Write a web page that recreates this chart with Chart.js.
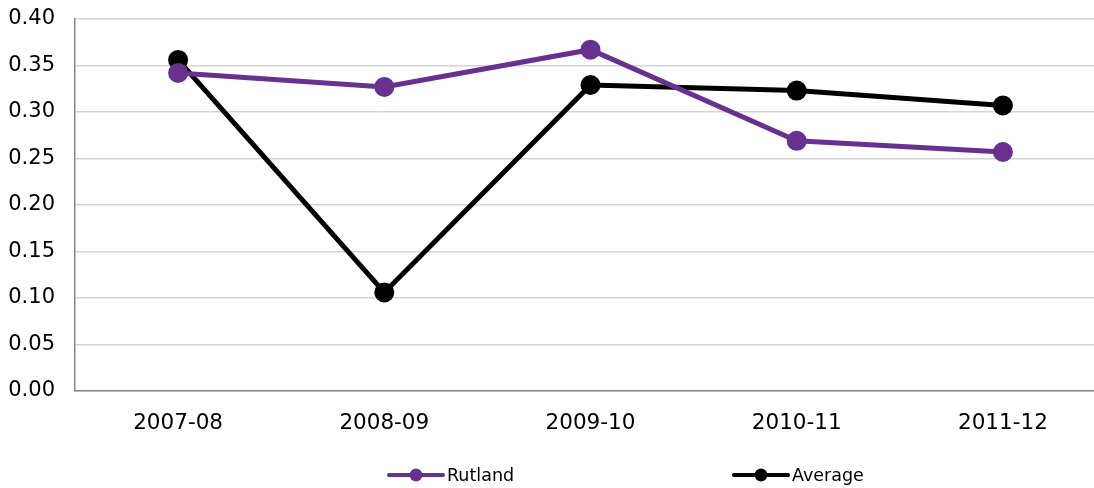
<!DOCTYPE html>
<html>
<head>
<meta charset="utf-8">
<script src="https://cdn.jsdelivr.net/npm/chart.js@4"></script>
<style>
html,body{margin:0;padding:0;background:#fff;overflow:hidden;}
#wrap{width:1094px;height:488px;overflow:hidden;position:relative;}
canvas{display:block;}
</style>
</head>
<body>
<div id="wrap"><canvas id="c" width="1106" height="488" style="width:1106px;height:488px"></canvas></div>
<script>
const categories = ["2007-08", "2008-09", "2009-10", "2010-11", "2011-12"];
const rutland = [0.342, 0.327, 0.367, 0.269, 0.257];
const average = [0.356, 0.106, 0.329, 0.323, 0.307];
const seriesNames = ["Rutland", "Average"];
const yTicks = [0, 0.05, 0.10, 0.15, 0.20, 0.25, 0.30, 0.35, 0.40];

const purple = "#68308F";
const black = "#000000";
const FONT = "'DejaVu Sans', Verdana, sans-serif";

const legendPlugin = {
  id: 'customLegend',
  afterDraw(chart) {
    const ctx = chart.ctx;
    const items = [
      {x0: 389, x1: 443, tx: 447},
      {x0: 734, x1: 788, tx: 792}
    ];
    const y = 475;
    chart.data.datasets.forEach((ds, i) => {
      const it = items[i];
      ctx.save();
      ctx.strokeStyle = ds.borderColor;
      ctx.lineWidth = 4;
      ctx.lineCap = 'round';
      ctx.beginPath();
      ctx.moveTo(it.x0, y);
      ctx.lineTo(it.x1, y);
      ctx.stroke();
      ctx.fillStyle = ds.borderColor;
      ctx.beginPath();
      ctx.arc((it.x0 + it.x1) / 2, y, 6.5, 0, Math.PI * 2);
      ctx.fill();
      ctx.fillStyle = '#000';
      ctx.font = "17.5px " + FONT;
      ctx.textBaseline = 'middle';
      ctx.textAlign = 'left';
      ctx.fillText(ds.label, it.tx, y + 1);
      ctx.restore();
    });
  }
};

new Chart(document.getElementById('c'), {
  type: 'line',
  data: {
    labels: categories,
    datasets: [
      {
        label: seriesNames[0],
        data: rutland,
        borderColor: purple,
        backgroundColor: purple,
        borderWidth: 5,
        pointRadius: 10,
        pointHoverRadius: 10,
        pointBackgroundColor: purple,
        pointBorderWidth: 0,
        tension: 0
      },
      {
        label: seriesNames[1],
        data: average,
        borderColor: black,
        backgroundColor: black,
        borderWidth: 5,
        pointRadius: 10,
        pointHoverRadius: 10,
        pointBackgroundColor: black,
        pointBorderWidth: 0,
        tension: 0
      }
    ]
  },
  options: {
    responsive: false,
    animation: false,
    events: [],
    layout: { autoPadding: false, padding: { top: 19, right: 0, bottom: 47, left: 0 } },
    plugins: {
      legend: { display: false },
      tooltip: { enabled: false }
    },
    scales: {
      x: {
        offset: true,
        grid: { display: false, drawTicks: false },
        border: { display: true, color: '#898989', width: 1.5 },
        ticks: {
          color: '#000',
          font: { family: FONT, size: 21.5 },
          padding: 20,
          maxRotation: 0
        },
        afterFit(scale) {
          scale.height = 50;
          scale.paddingLeft = 0; scale.paddingRight = 0;
          scale.paddingTop = 0; scale.paddingBottom = 0;
        }
      },
      y: {
        min: 0,
        max: 0.4,
        afterBuildTicks(scale) { scale.ticks = yTicks.map(v => ({ value: v })); },
        grid: { color: '#d4d4d4', lineWidth: 1.5, drawTicks: false },
        border: { display: true, color: '#898989', width: 1.5 },
        ticks: {
          color: '#000',
          font: { family: FONT, size: 21 },
          padding: 20,
          callback: v => Number(v).toFixed(2)
        },
        afterFit(scale) {
          scale.width = 75;
          scale.paddingLeft = 0; scale.paddingRight = 0;
          scale.paddingTop = 0; scale.paddingBottom = 0;
        }
      }
    }
  },
  plugins: [legendPlugin]
});
</script>
</body>
</html>
